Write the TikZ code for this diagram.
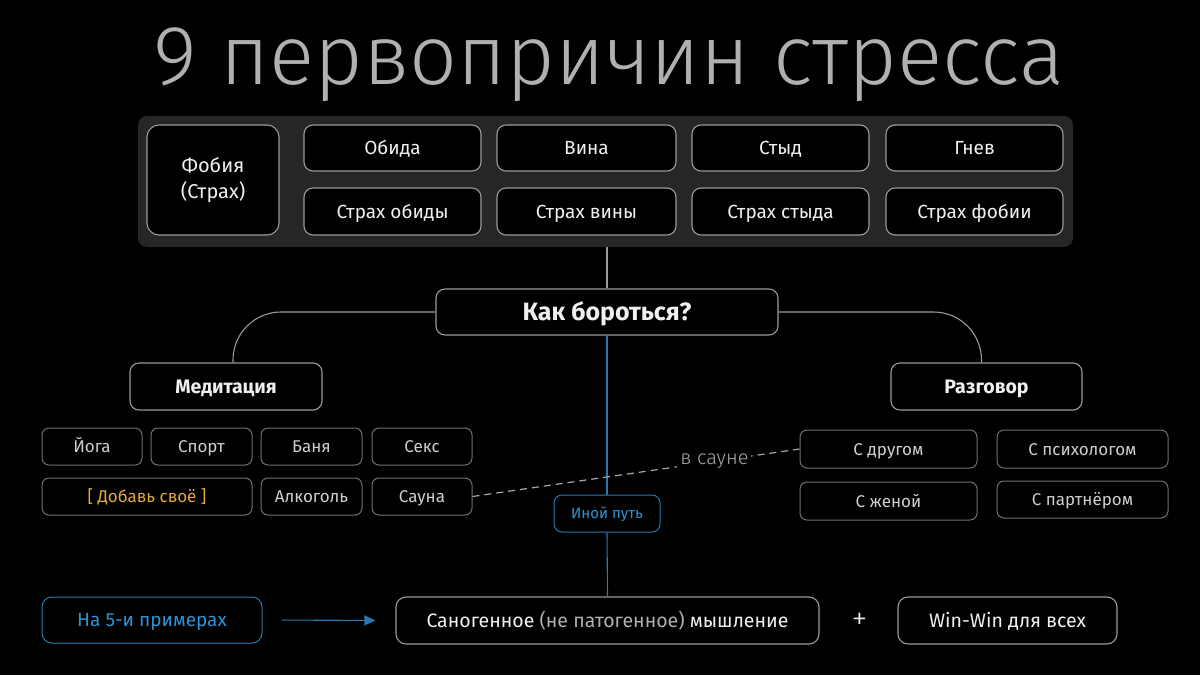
\documentclass[tikz,border=0pt]{standalone}
\usepackage{fontspec}
\setmainfont{Fira Sans}
\newfontfamily\titlefont{Fira Sans Light}
\usetikzlibrary{arrows.meta}
\definecolor{panelgray}{HTML}{262626}
\definecolor{bordtop}{HTML}{9A9A9A}
\definecolor{bordlow}{HTML}{707070}
\definecolor{txttop}{HTML}{F0F0F0}
\definecolor{txtlow}{HTML}{CFCFCF}
\definecolor{titlegray}{HTML}{B0B0B0}
\definecolor{bluetxt}{HTML}{2E93D6}
\definecolor{blueline}{HTML}{2A78AE}
\definecolor{orangetxt}{HTML}{E2A842}
\definecolor{dashgray}{HTML}{A8A8A8}
\tikzset{
  fixh/.style={text height=#1, text depth=0pt},
  topbox/.style={draw=bordtop, fill=black, rounded corners=9pt, line width=1.1pt, text=txttop, font=\fontsize{19}{21}\selectfont, inner sep=0pt, fixh=13pt},
  midbox/.style={draw=bordtop, fill=black, rounded corners=9pt, line width=1.1pt, text=txttop, font=\bfseries\fontsize{19.5}{21}\selectfont, inner sep=0pt, fixh=13.5pt},
  lowbox/.style={draw=bordlow, fill=black, rounded corners=7pt, line width=1pt, text=txtlow, font=\fontsize{17}{19}\selectfont, inner sep=0pt, fixh=12pt},
  bluebox/.style={draw=blueline, fill=black, rounded corners=8pt, line width=1pt, text=bluetxt, inner sep=0pt},
  conn/.style={draw=bordtop, line width=1.1pt},
  bconn/.style={draw=blueline, line width=1.1pt},
}
\begin{document}
\begin{tikzpicture}[x=1pt,y=-1pt]
\useasboundingbox (0,0) rectangle (1200,675);
\fill[black] (0,0) rectangle (1200,675);
% title
\node[text=titlegray, font=\titlefont\fontsize{84}{90}\selectfont, inner sep=0pt] (title) at (609,65) {9 первопричин стресса};
% panel
\node[fill=panelgray, rounded corners=9pt, minimum width=935pt, minimum height=131pt, inner sep=0pt] (panel) at (605.5,181.5) {};
\node[draw=bordtop, fill=black, rounded corners=12pt, line width=1.1pt, text=txttop, inner sep=0pt, minimum width=132pt, minimum height=110pt, align=center, font=\fontsize{20}{26}\selectfont] (fobia) at (213,180) {Фобия\\(Страх)};
\node[topbox, minimum width=177pt, minimum height=46pt] (obida) at (392.5,148) {Обида};
\node[topbox, minimum width=179pt, minimum height=46pt] (vina) at (586.5,148) {Вина};
\node[topbox, minimum width=177pt, minimum height=46pt] (styd) at (780.5,148) {Стыд};
\node[topbox, minimum width=177pt, minimum height=46pt] (gnev) at (974.5,148) {Гнев};
\node[topbox, minimum width=177pt, minimum height=47pt] (sobidy) at (392.5,211.5) {Страх обиды};
\node[topbox, minimum width=179pt, minimum height=47pt] (sviny) at (586.5,211.5) {Страх вины};
\node[topbox, minimum width=177pt, minimum height=47pt] (sstyda) at (780.5,211.5) {Страх стыда};
\node[topbox, minimum width=177pt, minimum height=47pt] (sfobii) at (974.5,211.5) {Страх фобии};
% central question
\node[midbox, minimum width=342pt, minimum height=46pt, font=\bfseries\fontsize{25}{27}\selectfont, fixh=17.5pt] (kak) at (607,312) {Как бороться?};
\draw[conn] (kak.north) -- (kak.north |- panel.south);
\node[midbox, minimum width=192pt, minimum height=47pt] (med) at (226,386.5) {Медитация};
\node[midbox, minimum width=191pt, minimum height=47pt] (razg) at (986.5,386.5) {Разговор};
\coordinate (medtop) at ([xshift=7pt]med.north);
\coordinate (razgtop) at ([xshift=-5pt]razg.north);
\draw[conn, rounded corners=48pt] (kak.west) -| (medtop);
\draw[conn, rounded corners=48pt] (kak.east) -| (razgtop);
% meditation items
\node[lowbox, minimum width=100pt, minimum height=37pt] (yoga) at (92,446.5) {Йога};
\node[lowbox, minimum width=101pt, minimum height=37pt] (sport) at (201.5,446.5) {Спорт};
\node[lowbox, minimum width=101pt, minimum height=37pt] (banya) at (311.5,446.5) {Баня};
\node[lowbox, minimum width=100pt, minimum height=37pt] (seks) at (422,446.5) {Секс};
\node[lowbox, minimum width=210pt, minimum height=37pt, text=orangetxt] (dobav) at (147,496.5) {[ Добавь своё ]};
\node[lowbox, minimum width=101pt, minimum height=37pt] (alk) at (311.5,496.5) {Алкоголь};
\node[lowbox, minimum width=100pt, minimum height=37pt] (sauna) at (422,496.5) {Сауна};
% talk items
\node[lowbox, minimum width=177pt, minimum height=38pt] (drug) at (888.5,449) {С другом};
\node[lowbox, minimum width=171pt, minimum height=38pt] (psih) at (1082.5,449) {С психологом};
\node[lowbox, minimum width=177pt, minimum height=38pt] (zhena) at (888.5,501) {С женой};
\node[lowbox, minimum width=171pt, minimum height=37pt] (partn) at (1082.5,499.5) {С партнёром};
% bottom
\node[bluebox, minimum width=106pt, minimum height=37pt, font=\fontsize{15}{17}\selectfont, fixh=10.5pt] (inoy) at (607,513.5) {Иной путь};
\node[bluebox, minimum width=220pt, minimum height=46pt, font=\fontsize{19}{21}\selectfont, rounded corners=10pt, fixh=13pt] (na5) at (152,620) {На 5-и примерах};
\node[topbox, minimum width=423pt, minimum height=47pt, rounded corners=10pt, font=\fontsize{19.5}{21}\selectfont, fixh=13.5pt] (sano) at (607.5,620.5) {Саногенное \textcolor{titlegray}{(не патогенное)} мышление};
\node[topbox, minimum width=219pt, minimum height=47pt, rounded corners=10pt, font=\fontsize{19.5}{21}\selectfont, fixh=13.5pt] (win) at (1007.5,620.5) {Win-Win для всех};
\node[text=txttop, font=\titlefont\fontsize{32}{34}\selectfont, inner sep=0pt] (plus) at (859.5,621) {+};
% connectors
\draw[bconn] (kak.south) -- (inoy.north);
\draw[bconn] (inoy.south) -- (sano.north);
\draw[bconn, -{Triangle[length=11pt,width=10pt]}, shorten <=19pt, shorten >=20pt] (na5.east) -- (sano.west);
\draw[draw=dashgray, line width=1.2pt, dash pattern=on 7pt off 5pt] (sauna.east) -- node[pos=0.74, fill=black, text=dashgray, font=\titlefont\fontsize{20}{22}\selectfont, inner sep=3pt] (vsaune) {в сауне} (drug.west);
\end{tikzpicture}
\end{document}
